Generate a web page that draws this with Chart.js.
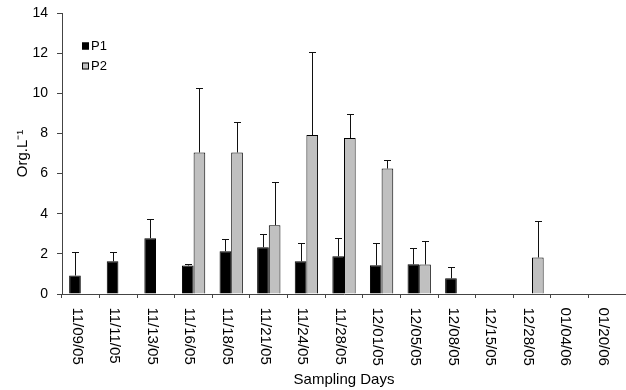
<!DOCTYPE html>
<html>
<head>
<meta charset="utf-8">
<script src="https://cdn.jsdelivr.net/npm/chart.js@4/dist/chart.umd.min.js"></script>
<style>
  html, body { margin: 0; padding: 0; background: #fff; }
  #wrap { width: 626px; height: 390px; }
</style>
</head>
<body>
<div id="wrap"><canvas id="c" width="626" height="390"></canvas></div>
<script>
const categories = ['11/09/05','11/11/05','11/13/05','11/16/05','11/18/05','11/21/05','11/24/05','11/28/05','12/01/05','12/05/05','12/08/05','12/15/05','12/28/05','01/04/06','01/20/06'];
const seriesNames = ['P1', 'P2'];
const p1Values = [0.92, 1.63, 2.78, 1.42, 2.13, 2.33, 1.63, 1.88, 1.43, 1.48, 0.78, 0, 0, 0, 0];
const p1Errors = [1.18, 0.44, 0.94, 0.08, 0.59, 0.64, 0.89, 0.89, 1.09, 0.79, 0.57, 0, 0, 0, 0];
const p2Values = [0, 0, 0, 7.05, 7.05, 3.43, 7.92, 7.77, 6.25, 1.47, 0, 0, 1.82, 0, 0];
const p2Errors = [0, 0, 0, 3.22, 1.50, 2.15, 4.13, 1.20, 0.43, 1.15, 0, 0, 1.80, 0, 0];
const yTicks = [0, 2, 4, 6, 8, 10, 12, 14];
const yTitle = 'Org.L\u207B\u00B9';
const xTitle = 'Sampling Days';

const FONT = '"Liberation Sans", Arial, sans-serif';
const errorSets = [p1Errors, p2Errors];

const errorBarPlugin = {
  id: 'errorBars',
  afterDatasetsDraw(chart) {
    const ctx = chart.ctx;
    const yScale = chart.scales.y;
    ctx.save();
    ctx.strokeStyle = '#111';
    ctx.lineWidth = 1;
    chart.data.datasets.forEach((ds, di) => {
      const meta = chart.getDatasetMeta(di);
      meta.data.forEach((bar, i) => {
        const v = ds.data[i];
        const e = errorSets[di][i];
        if (!v || !e) return;
        const x = Math.round(bar.x) + 0.5;
        const yTop = Math.round(yScale.getPixelForValue(v + e)) + 0.5;
        const yBar = yScale.getPixelForValue(v);
        ctx.beginPath();
        ctx.moveTo(x, yBar);
        ctx.lineTo(x, yTop);
        ctx.moveTo(x - 3.5, yTop);
        ctx.lineTo(x + 3.5, yTop);
        ctx.stroke();
      });
    });
    ctx.restore();
  }
};

const xLabelPlugin = {
  id: 'xLabels',
  afterDraw(chart) {
    const ctx = chart.ctx;
    const xs = chart.scales.x;
    ctx.save();
    ctx.font = '15px ' + FONT;
    ctx.fillStyle = '#000';
    ctx.textAlign = 'left';
    ctx.textBaseline = 'alphabetic';
    categories.forEach((lab, i) => {
      const cx = xs.getPixelForValue(i);
      ctx.save();
      ctx.translate(cx - 8.3, xs.top + 13.5);
      ctx.rotate(Math.PI / 2);
      ctx.fillText(lab, 0, 0);
      ctx.restore();
    });
    ctx.restore();
  }
};

const legendPlugin = {
  id: 'boxLegend',
  afterDraw(chart) {
    const ctx = chart.ctx;
    ctx.save();
    ctx.font = '13px ' + FONT;
    ctx.textBaseline = 'middle';
    ctx.textAlign = 'left';
    chart.data.datasets.forEach((ds, i) => {
      const y = 42.5 + i * 20;
      ctx.fillStyle = ds.backgroundColor;
      ctx.fillRect(82, y, 7, 7);
      ctx.strokeStyle = '#000';
      ctx.lineWidth = 1;
      ctx.strokeRect(82.5, y + 0.5, 6, 6);
      ctx.fillStyle = '#000';
      ctx.fillText(ds.label, 91, y + 4);
    });
    ctx.restore();
  }
};

new Chart(document.getElementById('c'), {
  type: 'bar',
  data: {
    labels: categories,
    datasets: [
      { label: seriesNames[0], data: p1Values, backgroundColor: '#000000', borderColor: '#000000', borderWidth: 1 },
      { label: seriesNames[1], data: p2Values, backgroundColor: '#c0c0c0', borderColor: '#000000', borderWidth: 1 }
    ]
  },
  options: {
    responsive: false,
    devicePixelRatio: 1,
    animation: false,
    layout: { padding: { top: 13, right: 0, bottom: 0, left: 0 } },
    datasets: { bar: { categoryPercentage: 0.62, barPercentage: 1.0 } },
    plugins: { legend: { display: false }, tooltip: { enabled: false } },
    scales: {
      x: {
        grid: { display: true, drawOnChartArea: false, drawTicks: true, tickLength: 4, color: '#444', offset: true },
        border: { display: true, color: '#444', width: 1 },
        ticks: { color: 'rgba(0,0,0,0)', minRotation: 90, maxRotation: 90, autoSkip: false, font: { size: 15, family: FONT } },
        title: { display: true, text: xTitle, color: '#000', font: { size: 15, family: FONT }, padding: { top: 0, bottom: 1 } },
        afterFit(scale) { scale.height = 96; scale.paddingLeft = 0; scale.paddingRight = 0; }
      },
      y: {
        min: 0, max: 14,
        afterBuildTicks(scale) { scale.ticks = yTicks.map(v => ({ value: v })); },
        grid: { display: true, drawOnChartArea: false, drawTicks: true, tickLength: 5, color: '#444' },
        border: { display: true, color: '#444', width: 1 },
        ticks: { color: '#000', padding: 9, font: { size: 14, family: FONT } },
        title: { display: true, text: yTitle, color: '#000', font: { size: 15, family: FONT }, padding: { top: 14, bottom: 0 } },
        afterFit(scale) { scale.width = 62; scale.paddingTop = 0; scale.paddingBottom = 0; }
      }
    }
  },
  plugins: [errorBarPlugin, xLabelPlugin, legendPlugin]
});
</script>
</body>
</html>
